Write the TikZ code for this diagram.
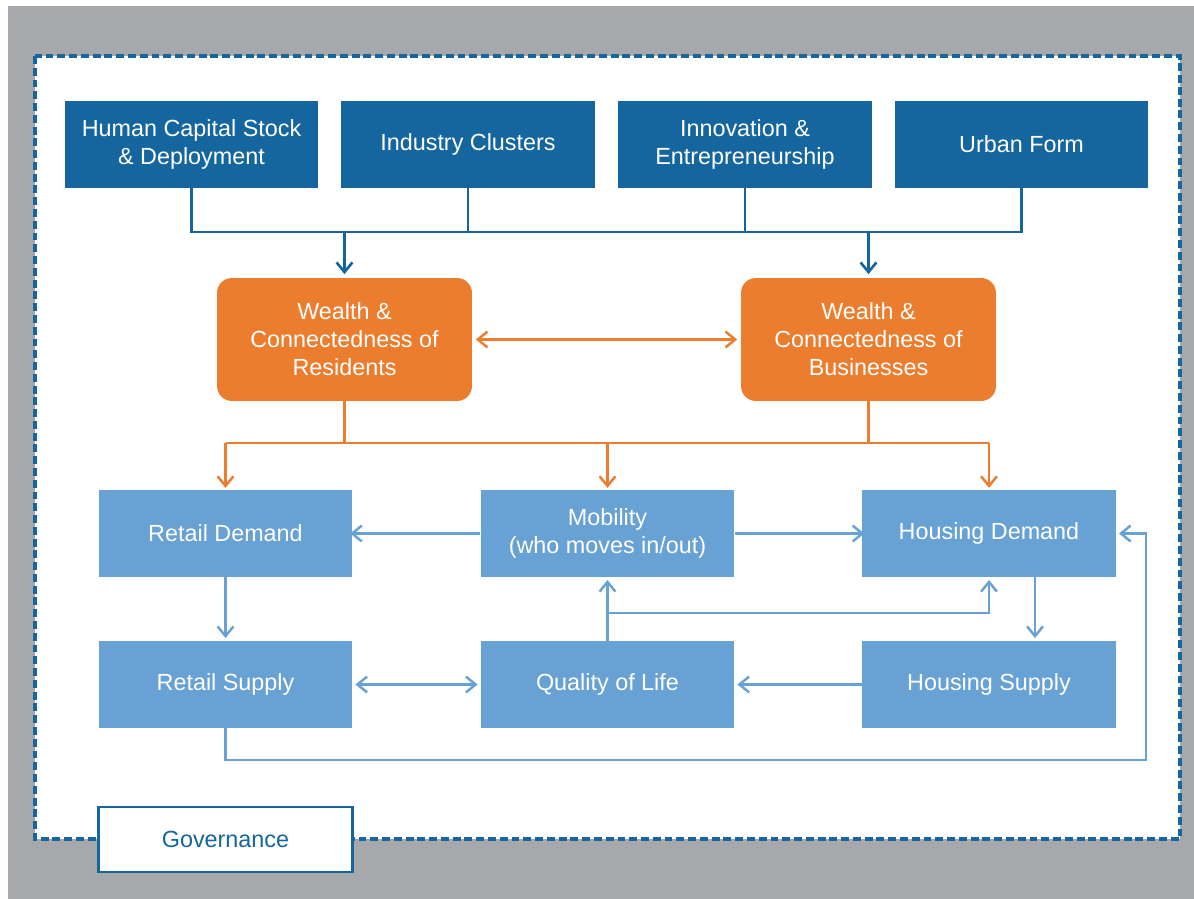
\documentclass[tikz,border=0pt]{standalone}
\usepackage{fontspec}
\setmainfont{Liberation Sans}
\usetikzlibrary{arrows.meta,calc}
\definecolor{deepblue}{RGB}{21,101,158}
\definecolor{wealthorange}{RGB}{236,125,46}
\definecolor{marketblue}{RGB}{104,161,211}
\definecolor{framegray}{RGB}{167,168,171}
\tikzset{
  flow chart/.style={
    box/.style={rectangle, minimum width=5.08cm, minimum height=1.74cm, inner sep=2pt,
        align=center, text=white, font={\fontsize{13.3}{16}\selectfont}},
    driver box/.style={box, fill=deepblue},
    wealth box/.style={box, fill=wealthorange, rounded corners=8.5pt,
        minimum width=5.1cm, minimum height=2.46cm},
    market box/.style={box, fill=marketblue},
    gov box/.style={box, fill=white, draw=deepblue, line width=1.4pt, text=deepblue,
        minimum height=1.3cm},
    driver line/.style={deepblue, line width=1.5pt},
    driver arrow/.style={driver line, -{Straight Barb[length=5.5pt,width=9pt]}},
    wealth line/.style={wealthorange, line width=1.4pt},
    wealth arrow/.style={wealth line, -{Straight Barb[length=5.5pt,width=9pt]}},
    market line/.style={marketblue, line width=1.4pt},
    market arrow/.style={market line, -{Straight Barb[length=5.5pt,width=9pt]}},
    frame/.style={draw=deepblue, fill=white, line width=1.9pt, dash pattern=on 4.5pt off 2.2pt},
  }
}
\begin{document}
\begin{tikzpicture}[flow chart, x=0.02cm, y=-0.02cm]
    \useasboundingbox (0,0) rectangle (1194,899);
    \fill[white] (0,0) rectangle (1194,899);
    \fill[framegray] (8,6) rectangle (1194,899);
    \draw[frame] (35,56) rectangle (1180,839);

    \node[driver box] (hcs) at (191.5,144.5) {Human Capital Stock\\\& Deployment};
    \node[driver box] (ic)  at (468,144.5)   {Industry Clusters};
    \node[driver box] (ie)  at (745,144.5)   {Innovation \&\\Entrepreneurship};
    \node[driver box] (uf)  at (1021.5,144.5){Urban Form};

    \node[wealth box] (wr) at (344.5,339.5) {Wealth \&\\Connectedness of\\Residents};
    \node[wealth box] (wb) at (868.5,339.5) {Wealth \&\\Connectedness of\\Businesses};

    \node[market box] (rd)  at (225.5,533.5) {Retail Demand};
    \node[market box] (mob) at (607.5,533.5) {Mobility\\(who moves in/out)};
    \node[market box] (hd)  at (989,533.5)   {Housing Demand};
    \node[market box] (rs)  at (225.5,684.5) {Retail Supply};
    \node[market box] (qol) at (607.5,684.5) {Quality of Life};
    \node[market box] (hs)  at (989,684.5)   {Housing Supply};

    \node[gov box] (gov) at (225.5,839.5) {Governance};

    \coordinate (driverbus) at (0,232);
    \coordinate (wealthbus) at (0,443);
    \coordinate (loopcorner) at (1146,760);

    \draw[driver line] (hcs.south) -- (hcs.south |- driverbus) -- (uf.south |- driverbus) -- (uf.south);
    \draw[driver line] (ic.south) -- (ic.south |- driverbus);
    \draw[driver line] (ie.south) -- (ie.south |- driverbus);
    \draw[driver arrow] (wr.north |- driverbus) -- ([yshift=2pt]wr.north);
    \draw[driver arrow] (wb.north |- driverbus) -- ([yshift=2pt]wb.north);

    \draw[wealth line, {Straight Barb[length=5.5pt,width=9pt]}-{Straight Barb[length=5.5pt,width=9pt]}]
        ([xshift=2pt]wr.east) -- ([xshift=-2pt]wb.west);
    \draw[wealth line] (wr.south) -- (wr.south |- wealthbus);
    \draw[wealth line] (wb.south) -- (wb.south |- wealthbus);
    \draw[wealth line] (rd.north |- wealthbus) -- (hd.north |- wealthbus);
    \foreach \n in {rd,mob,hd}
        \draw[wealth arrow] (\n.north |- wealthbus) -- ([yshift=1pt]\n.north);

    \draw[market arrow] (mob.west) -- ([xshift=-1.5pt]rd.east);
    \draw[market arrow] (mob.east) -- ([xshift=1.5pt]hd.west);
    \draw[market arrow] (rd.south) -- ([yshift=1.5pt]rs.north);
    \draw[market arrow] ([xshift=46*0.02cm]hd.south) -- ([xshift=46*0.02cm,yshift=1.5pt]hs.north);
    \draw[market line, {Straight Barb[length=5.5pt,width=9pt]}-{Straight Barb[length=5.5pt,width=9pt]}]
        ([xshift=1.5pt]rs.east) -- ([xshift=-1.5pt]qol.west);
    \draw[market arrow] (hs.west) -- ([xshift=1.5pt]qol.east);
    \draw[market arrow] (qol.north) -- ([yshift=-1.5pt]mob.south);
    \draw[market arrow] (qol.north |- 0,613) -| ([yshift=-1.5pt]hd.south);
    \draw[market arrow] (rs.south) |- (loopcorner) |- ([xshift=1.5pt]hd.east);
\end{tikzpicture}
\end{document}
